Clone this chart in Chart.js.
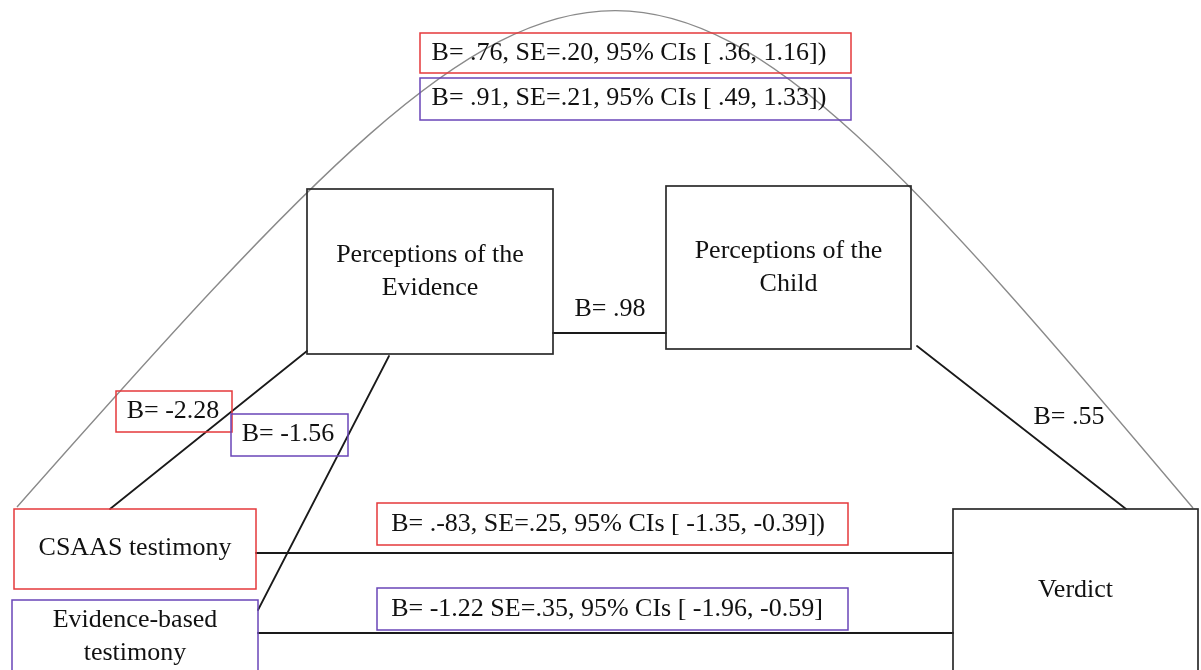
<!DOCTYPE html>
<html>
<head>
<meta charset="utf-8">
<script src="https://cdn.jsdelivr.net/npm/chart.js@4"></script>
<style>
  html, body { margin: 0; padding: 0; background: #fff; }
  canvas { display: block; }
</style>
</head>
<body>
<canvas id="pathChart" width="1201" height="670"></canvas>
<script>
// diagram space is in picture units: x 0..1201, y 0..670 (top down)
const nodeLabels = [
  ['Perceptions of the', 'Evidence'],
  ['Perceptions of the', 'Child'],
  ['CSAAS testimony'],
  ['Evidence-based', 'testimony'],
  ['Verdict']
];
const nodeKinds = ['mediator', 'mediator', 'csaas', 'evidence', 'outcome'];
const nodeLeft = [307, 666, 14, 12, 953];
const nodeTop = [189, 186, 509, 600, 509];
const nodeRight = [553, 911, 256, 258, 1198];
const nodeBottom = [354, 349, 589, 690, 690];
const nodeTextY = [[255, 288], [251, 284], [548], [620, 653], [590]];

// straight paths between boxes: [x1, y1, x2, y2]
const pathSegments = [
  [307, 351, 110, 509],
  [389, 356, 258, 610],
  [553, 333, 666, 333],
  [917, 346, 1126, 509],
  [256, 553, 953, 553],
  [258, 633, 953, 633]
];

// total-effect arc from CSAAS over the top to Verdict (one cubic curve)
const arcStart = [17, 507];
const arcControl1 = [603, -156];
const arcControl2 = [635, -154];
const arcEnd = [1193, 508];

// coefficient labels; kind decides the frame colour (none = plain text)
const coefTexts = [
  'B= .76, SE=.20, 95% CIs [ .36, 1.16])',
  'B= .91, SE=.21, 95% CIs [ .49, 1.33])',
  'B= .98',
  'B= -2.28',
  'B= -1.56',
  'B= .55',
  'B= .-83, SE=.25, 95% CIs [ -1.35, -0.39])',
  'B= -1.22 SE=.35, 95% CIs [ -1.96, -0.59]'
];
const coefKinds = ['csaas', 'evidence', 'none', 'csaas', 'evidence', 'none', 'csaas', 'evidence'];
const coefTextX = [629, 629, 610, 173, 288, 1069, 608, 607];
const coefTextY = [53, 98, 309, 411, 434, 417, 524, 609];
const coefFrames = [
  [420, 33, 851, 73],
  [420, 78, 851, 120],
  null,
  [116, 391, 232, 432],
  [231, 414, 348, 456],
  null,
  [377, 503, 848, 545],
  [377, 588, 848, 630]
];

const frameColors = {
  mediator: '#2b2b2b',
  outcome: '#2b2b2b',
  csaas: '#e5393b',
  evidence: '#6a46b8'
};
const FONT = '26px "Liberation Serif", "DejaVu Serif", serif';

const datasets = pathSegments.map((seg) => ({
  data: [{ x: seg[0], y: seg[1] }, { x: seg[2], y: seg[3] }],
  borderColor: '#1a1a1a',
  borderWidth: 1.8,
  showLine: true,
  pointRadius: 0
}));

const arcPlugin = {
  id: 'totalEffectArc',
  beforeDatasetsDraw(chart) {
    const { ctx, scales: { x, y } } = chart;
    const pt = (p) => [x.getPixelForValue(p[0]), y.getPixelForValue(p[1])];
    const s = pt(arcStart);
    const c1 = pt(arcControl1);
    const c2 = pt(arcControl2);
    const e = pt(arcEnd);

    ctx.save();
    ctx.strokeStyle = '#8a8a8a';
    ctx.lineWidth = 1.4;
    ctx.beginPath();
    ctx.moveTo(s[0], s[1]);
    ctx.bezierCurveTo(c1[0], c1[1], c2[0], c2[1], e[0], e[1]);
    ctx.stroke();
    ctx.restore();
  }
};

const framesPlugin = {
  id: 'framesAndText',
  afterDatasetsDraw(chart) {
    const { ctx, scales: { x, y } } = chart;
    const px = (v) => x.getPixelForValue(v);
    const py = (v) => y.getPixelForValue(v);

    ctx.save();
    ctx.font = FONT;
    ctx.textAlign = 'center';
    ctx.textBaseline = 'middle';

    nodeLabels.forEach((lines, i) => {
      ctx.strokeStyle = frameColors[nodeKinds[i]];
      ctx.lineWidth = nodeKinds[i] === 'mediator' || nodeKinds[i] === 'outcome' ? 1.7 : 1.5;
      const l = px(nodeLeft[i]);
      const t = py(nodeTop[i]);
      ctx.strokeRect(l, t, px(nodeRight[i]) - l, py(nodeBottom[i]) - t);
      ctx.fillStyle = '#111';
      const cx = px((nodeLeft[i] + nodeRight[i]) / 2);
      lines.forEach((line, j) => ctx.fillText(line, cx, py(nodeTextY[i][j])));
    });

    coefTexts.forEach((text, i) => {
      const frame = coefFrames[i];
      if (frame) {
        ctx.strokeStyle = frameColors[coefKinds[i]];
        ctx.lineWidth = 1.5;
        const l = px(frame[0]);
        const t = py(frame[1]);
        ctx.strokeRect(l, t, px(frame[2]) - l, py(frame[3]) - t);
      }
      ctx.fillStyle = '#111';
      ctx.fillText(text, px(coefTextX[i]), py(coefTextY[i]));
    });
    ctx.restore();
  }
};

new Chart(document.getElementById('pathChart'), {
  type: 'scatter',
  data: { datasets },
  options: {
    responsive: false,
    animation: false,
    devicePixelRatio: 1,
    layout: { padding: 0 },
    plugins: { legend: { display: false }, tooltip: { enabled: false } },
    elements: { line: { borderCapStyle: 'round' } },
    scales: {
      x: { type: 'linear', min: 0, max: 1201, display: false },
      y: { type: 'linear', min: 0, max: 670, reverse: true, display: false }
    }
  },
  plugins: [arcPlugin, framesPlugin]
});
</script>
</body>
</html>
